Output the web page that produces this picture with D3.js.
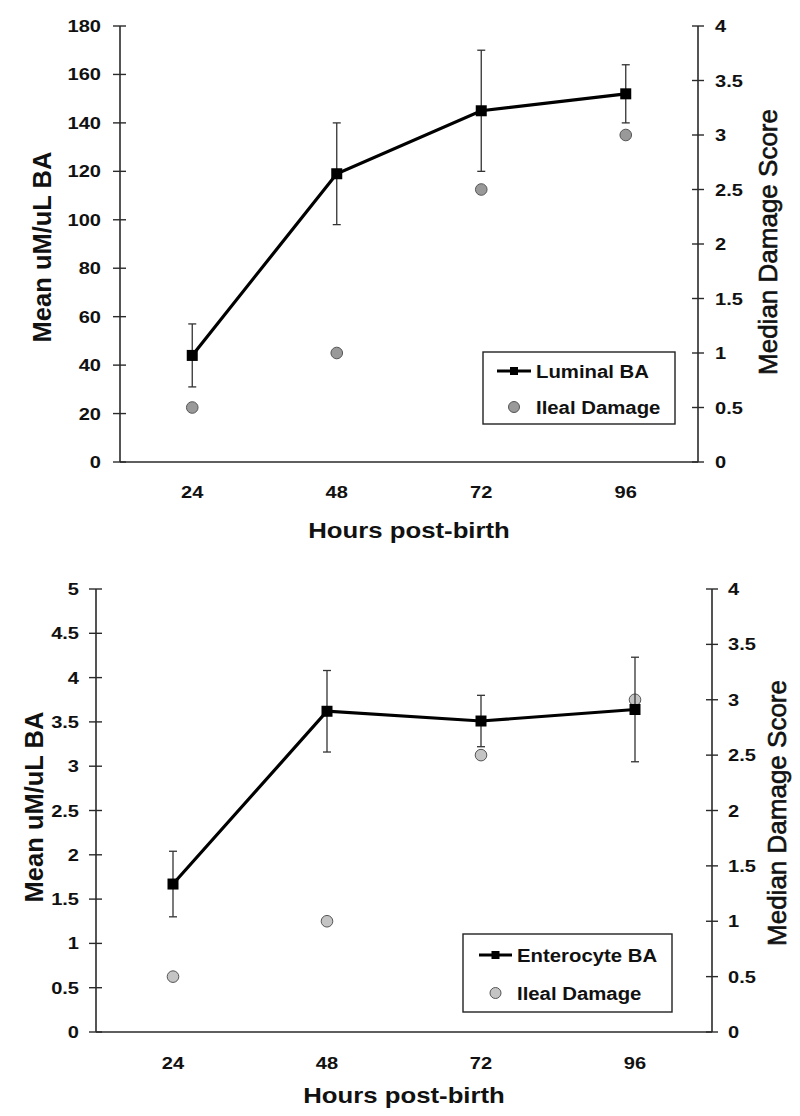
<!DOCTYPE html>
<html>
<head>
<meta charset="utf-8">
<script src="https://cdnjs.cloudflare.com/ajax/libs/d3/7.8.5/d3.min.js"></script>
<style>
  html, body { margin: 0; padding: 0; background: #fff; }
  svg { display: block; font-family: "Liberation Sans", Arial, sans-serif; }
</style>
</head>
<body>
<svg id="chart" width="800" height="1116"></svg>
<script>
// ---- data ----
const hours = ["24", "48", "72", "96"];

const luminalBA = [44, 119, 145, 152];
const luminalErr = [13, 21, 25, 12];
const ilealDamageTop = [0.5, 1, 2.5, 3];

const enterocyteBA = [1.67, 3.62, 3.51, 3.64];
const enterocyteErr = [0.37, 0.46, 0.29, 0.59];
const ilealDamageBottom = [0.5, 1, 2.5, 3];

const leftTicksTop = [0, 20, 40, 60, 80, 100, 120, 140, 160, 180];
const leftTicksBottom = [0, 0.5, 1, 1.5, 2, 2.5, 3, 3.5, 4, 4.5, 5];
const rightTicks = [0, 0.5, 1, 1.5, 2, 2.5, 3, 3.5, 4];

const xTitle = "Hours post-birth";
const leftTitle = "Mean uM/uL BA";
const rightTitle = "Median Damage Score";
const damageLabel = "Ileal Damage";

// ---- drawing ----
const svg = d3.select("#chart");

function hText(g, x, y, txt, size, weight, anchor, sx) {
  return g.append("text")
    .attr("transform", `translate(${x},${y}) scale(${sx},1)`)
    .attr("text-anchor", anchor)
    .attr("font-size", size)
    .attr("font-weight", weight)
    .attr("fill", "#111")
    .text(txt);
}

function panel(cfg) {
  const g = svg.append("g");
  const x = d3.scalePoint().domain(hours).range([cfg.x0, cfg.x1]).padding(0.5);
  const yL = d3.scaleLinear().domain([0, cfg.leftMax]).range([cfg.yBot, cfg.yTop]);
  const yR = d3.scaleLinear().domain([0, 4]).range([cfg.yBot, cfg.yTop]);
  const axisColor = "#2a2a2a";

  // axes lines
  g.append("line").attr("x1", cfg.x0).attr("x2", cfg.x0).attr("y1", cfg.yTop).attr("y2", cfg.yBot)
    .attr("stroke", axisColor).attr("stroke-width", 1.6);
  g.append("line").attr("x1", cfg.x1).attr("x2", cfg.x1).attr("y1", cfg.yTop).attr("y2", cfg.yBot)
    .attr("stroke", axisColor).attr("stroke-width", 1.6);
  g.append("line").attr("x1", cfg.x0).attr("x2", cfg.x1).attr("y1", cfg.yBot).attr("y2", cfg.yBot)
    .attr("stroke", axisColor).attr("stroke-width", 1.6);

  // left ticks
  cfg.leftTicks.forEach(t => {
    g.append("line").attr("x1", cfg.x0 - 7).attr("x2", cfg.x0 + 6)
      .attr("y1", yL(t)).attr("y2", yL(t)).attr("stroke", axisColor).attr("stroke-width", 1.4);
    hText(g, cfg.x0 - cfg.leftPad, yL(t) + 6, String(t), 17, "bold", "end", 1.18);
  });
  // right ticks
  rightTicks.forEach(t => {
    g.append("line").attr("x1", cfg.x1 - 6).attr("x2", cfg.x1 + 6)
      .attr("y1", yR(t)).attr("y2", yR(t)).attr("stroke", axisColor).attr("stroke-width", 1.4);
    hText(g, cfg.x1 + cfg.rightPad, yR(t) + 6, String(t), 17, "bold", "start", 1.18);
  });
  // x labels
  hours.forEach(h => {
    hText(g, x(h), cfg.xLabelY + 6, h, 17, "bold", "middle", 1.18);
  });

  // titles
  hText(g, (cfg.x0 + cfg.x1) / 2, cfg.xTitleY + 8, xTitle, 23, "bold", "middle", 1.12);
  g.append("text")
    .attr("transform", `translate(${cfg.leftTitleX},${cfg.leftTitleY}) rotate(-90)`)
    .attr("text-anchor", "middle").attr("dy", "0.35em")
    .attr("font-size", 25.5).attr("font-weight", "bold").attr("fill", "#111")
    .text(leftTitle);
  g.append("text")
    .attr("transform", `translate(${cfg.rightTitleX},${cfg.rightTitleY}) rotate(-90)`)
    .attr("text-anchor", "middle").attr("dy", "0.35em")
    .attr("font-size", 26).attr("font-weight", "normal").attr("fill", "#111")
    .attr("stroke", "#111").attr("stroke-width", 0.6)
    .text(rightTitle);

  // damage circles
  g.selectAll("circle.dmg").data(cfg.damage).enter().append("circle")
    .attr("class", "dmg")
    .attr("cx", (d, i) => x(hours[i])).attr("cy", d => yR(d)).attr("r", 5.8)
    .attr("fill", cfg.dotFill).attr("stroke", "#555").attr("stroke-width", 1);

  // error bars
  cfg.values.forEach((v, i) => {
    const cx = x(hours[i]);
    const e = cfg.errs[i];
    g.append("line").attr("x1", cx).attr("x2", cx).attr("y1", yL(v + e)).attr("y2", yL(v - e))
      .attr("stroke", "#333").attr("stroke-width", 1.3);
    [v + e, v - e].forEach(w => {
      g.append("line").attr("x1", cx - 4).attr("x2", cx + 4).attr("y1", yL(w)).attr("y2", yL(w))
        .attr("stroke", "#333").attr("stroke-width", 1.3);
    });
  });

  // line
  const line = d3.line().x((d, i) => x(hours[i])).y(d => yL(d));
  g.append("path").datum(cfg.values).attr("d", line)
    .attr("fill", "none").attr("stroke", "#000").attr("stroke-width", 3.2);
  g.selectAll("rect.mk").data(cfg.values).enter().append("rect")
    .attr("class", "mk")
    .attr("x", (d, i) => x(hours[i]) - 5.5).attr("y", d => yL(d) - 5.5)
    .attr("width", 11).attr("height", 11).attr("fill", "#000");

  // legend
  const L = cfg.legend;
  g.append("rect").attr("x", L.x).attr("y", L.y).attr("width", L.w).attr("height", L.h)
    .attr("fill", "#fff").attr("stroke", "#222").attr("stroke-width", 1.4);
  g.append("line").attr("x1", L.lineX0).attr("x2", L.lineX1).attr("y1", L.row1).attr("y2", L.row1)
    .attr("stroke", "#000").attr("stroke-width", 3);
  const mx = (L.lineX0 + L.lineX1) / 2;
  g.append("rect").attr("x", mx - 4).attr("y", L.row1 - 4).attr("width", 8).attr("height", 8).attr("fill", "#000");
  hText(g, L.textX, L.row1 + 7, cfg.seriesName, 18.5, "bold", "start", 1.1);
  g.append("circle").attr("cx", mx).attr("cy", L.row2).attr("r", 5.5)
    .attr("fill", cfg.dotFill).attr("stroke", "#555").attr("stroke-width", 1);
  hText(g, L.textX, L.row2 + 7, damageLabel, 18.5, "bold", "start", 1.1);
}

panel({
  x0: 120, x1: 698, yTop: 26, yBot: 462, leftMax: 180,
  leftTicks: leftTicksTop, leftPad: 19, rightPad: 17,
  xLabelY: 492, xTitleY: 530,
  leftTitleX: 42, leftTitleY: 247, rightTitleX: 768, rightTitleY: 242,
  values: luminalBA, errs: luminalErr, damage: ilealDamageTop,
  dotFill: "#999", seriesName: "Luminal BA",
  legend: { x: 483, y: 352, w: 192, h: 72, lineX0: 497, lineX1: 531, textX: 536, row1: 371, row2: 407 }
});

panel({
  x0: 96, x1: 712, yTop: 589, yBot: 1032, leftMax: 5,
  leftTicks: leftTicksBottom, leftPad: 17, rightPad: 16,
  xLabelY: 1063, xTitleY: 1095,
  leftTitleX: 34, leftTitleY: 807, rightTitleX: 777, rightTitleY: 813,
  values: enterocyteBA, errs: enterocyteErr, damage: ilealDamageBottom,
  dotFill: "#c4c4c4", seriesName: "Enterocyte BA",
  legend: { x: 463, y: 934, w: 209, h: 78, lineX0: 479, lineX1: 512, textX: 517, row1: 955, row2: 993 }
});
</script>
</body>
</html>
